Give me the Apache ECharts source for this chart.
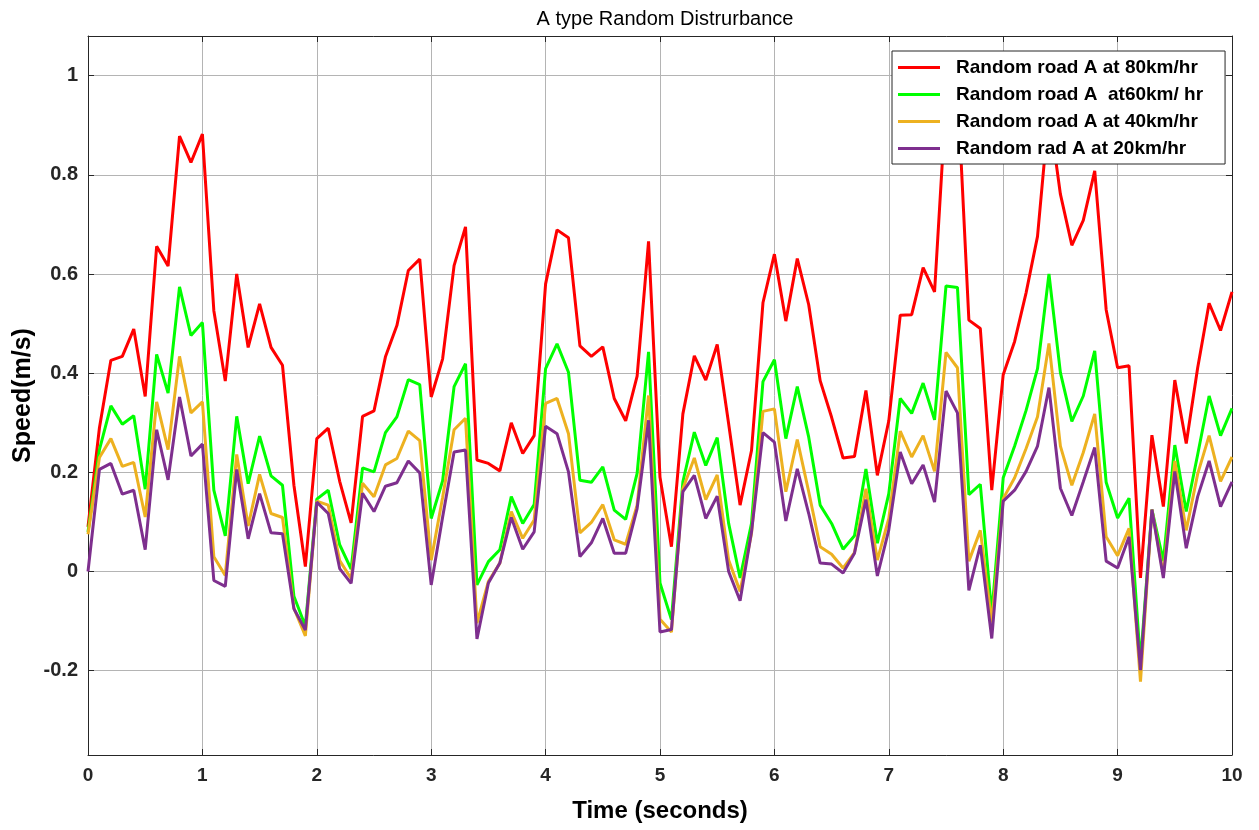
<!DOCTYPE html>
<html lang="en">
<head>
<meta charset="UTF-8">
<title>A type Random Distrurbance</title>
<script src="https://cdn.jsdelivr.net/npm/echarts@6/dist/echarts.min.js"></script>
<style>
  html, body { margin: 0; padding: 0; background: #fff; }
  #box { width: 1259px; height: 830px; }
</style>
</head>
<body>
<div id="box"></div>
<script>
    // sampling step of the time axis (seconds)
    var step = 0.1;

    // series names, as written in the legend
    var names = ['Random road A at 80km/hr', 'Random road A  at60km/ hr', 'Random road A at 40km/hr', 'Random rad A at 20km/hr'];
    var colors = ['#ff0000', '#00ff00', '#edb120', '#7e2f8e'];

    // speed values, one every 0.1 s from 0 to 10 s
    var road80 = [0.09, 0.29, 0.426, 0.434, 0.489, 0.353, 0.656, 0.616, 0.878, 0.825,
        0.882, 0.526, 0.384, 0.60, 0.452, 0.54, 0.452, 0.416, 0.174, 0.01,
        0.268, 0.289, 0.182, 0.098, 0.313, 0.324, 0.433, 0.496, 0.607, 0.63,
        0.352, 0.429, 0.617, 0.695, 0.225, 0.218, 0.203, 0.30, 0.238, 0.274,
        0.58, 0.689, 0.673, 0.455, 0.434, 0.453, 0.349, 0.304, 0.394, 0.666,
        0.19, 0.05, 0.318, 0.435, 0.386, 0.458, 0.298, 0.134, 0.244, 0.542,
        0.64, 0.505, 0.631, 0.538, 0.385, 0.311, 0.229, 0.232, 0.365, 0.194,
        0.304, 0.517, 0.518, 0.613, 0.564, 0.95, 0.98, 0.507, 0.49, 0.164,
        0.397, 0.464, 0.562, 0.676, 0.93, 0.761, 0.658, 0.708, 0.808, 0.528,
        0.411, 0.415, -0.013, 0.275, 0.131, 0.386, 0.258, 0.411, 0.541, 0.486,
        0.564];
    var road60 = [0.08, 0.246, 0.334, 0.297, 0.314, 0.166, 0.438, 0.36, 0.574, 0.476,
        0.502, 0.164, 0.072, 0.313, 0.177, 0.273, 0.193, 0.174, -0.05, -0.11,
        0.146, 0.164, 0.054, 0.005, 0.209, 0.201, 0.28, 0.312, 0.387, 0.377,
        0.107, 0.183, 0.373, 0.419, -0.027, 0.02, 0.044, 0.151, 0.097, 0.135,
        0.409, 0.459, 0.402, 0.184, 0.18, 0.211, 0.124, 0.105, 0.198, 0.443,
        -0.023, -0.097, 0.181, 0.281, 0.214, 0.27, 0.097, -0.013, 0.097, 0.383,
        0.427, 0.268, 0.373, 0.271, 0.134, 0.097, 0.045, 0.072, 0.207, 0.057,
        0.157, 0.349, 0.319, 0.38, 0.306, 0.576, 0.573, 0.155, 0.176, -0.086,
        0.189, 0.253, 0.325, 0.409, 0.6, 0.401, 0.303, 0.354, 0.445, 0.18,
        0.108, 0.148, -0.184, 0.125, 0.021, 0.255, 0.121, 0.236, 0.354, 0.274,
        0.329];
    var road40 = [0.075, 0.23, 0.268, 0.212, 0.22, 0.11, 0.342, 0.246, 0.434, 0.32,
        0.342, 0.03, -0.008, 0.236, 0.092, 0.196, 0.117, 0.109, -0.074, -0.13,
        0.142, 0.134, 0.022, -0.014, 0.178, 0.151, 0.215, 0.228, 0.283, 0.264,
        0.023, 0.15, 0.286, 0.309, -0.104, -0.02, 0.017, 0.121, 0.067, 0.104,
        0.339, 0.349, 0.278, 0.078, 0.099, 0.135, 0.064, 0.055, 0.134, 0.355,
        -0.096, -0.122, 0.167, 0.229, 0.145, 0.195, 0.023, -0.04, 0.077, 0.323,
        0.328, 0.161, 0.266, 0.161, 0.05, 0.035, 0.007, 0.038, 0.167, 0.023,
        0.107, 0.283, 0.231, 0.274, 0.202, 0.442, 0.411, 0.021, 0.083, -0.103,
        0.147, 0.189, 0.248, 0.312, 0.46, 0.253, 0.174, 0.24, 0.318, 0.07,
        0.032, 0.087, -0.222, 0.125, -0.006, 0.223, 0.083, 0.197, 0.274, 0.182,
        0.231];
    var road20 = [0.0, 0.206, 0.218, 0.156, 0.164, 0.044, 0.286, 0.185, 0.352, 0.233,
        0.257, -0.018, -0.03, 0.206, 0.066, 0.157, 0.078, 0.076, -0.075, -0.118,
        0.14, 0.117, 0.006, -0.024, 0.158, 0.121, 0.172, 0.179, 0.223, 0.199,
        -0.027, 0.11, 0.241, 0.245, -0.136, -0.023, 0.017, 0.109, 0.045, 0.08,
        0.293, 0.278, 0.201, 0.03, 0.058, 0.107, 0.037, 0.037, 0.127, 0.305,
        -0.122, -0.117, 0.161, 0.194, 0.107, 0.152, 0.0, -0.059, 0.08, 0.28,
        0.261, 0.102, 0.207, 0.117, 0.017, 0.015, -0.003, 0.037, 0.145, -0.009,
        0.084, 0.241, 0.177, 0.215, 0.14, 0.364, 0.32, -0.038, 0.053, -0.135,
        0.142, 0.164, 0.202, 0.253, 0.371, 0.168, 0.113, 0.181, 0.25, 0.021,
        0.007, 0.07, -0.199, 0.125, -0.013, 0.202, 0.047, 0.151, 0.223, 0.131,
        0.181];

    // y tick labels
    var yTicks = [-0.2, 0, 0.2, 0.4, 0.6, 0.8, 1];

    var allData = [road80, road60, road40, road20];
    var axisColor = '#262626';
    var gridColor = '#b4b4b4';
    var font = 'Liberation Sans, Arial, Helvetica, sans-serif';

    // pair every value with its time
    function pairs(arr) {
        var out = [];
        for (var i = 0; i < arr.length; i++) {
            out.push([Math.round(i * step * 10) / 10, arr[i]]);
        }
        return out;
    }

    var series = [];
    for (var s = 0; s < allData.length; s++) {
        series.push({
            name: names[s],
            type: 'line',
            data: pairs(allData[s]),
            showSymbol: false,
            symbol: 'none',
            lineStyle: { color: colors[s], width: 3 },
            itemStyle: { color: colors[s] },
            animation: false,
            z: 2 + s
        });
    }

    var myChart = echarts.init(document.getElementById('box'));
    var option = {
        backgroundColor: '#fff',
        animation: false,
        title: {
            text: 'A type Random Distrurbance',
            left: 660,
            top: 4,
            textAlign: 'center',
            textStyle: { fontFamily: font, fontSize: 20, fontWeight: 'normal', color: '#000' }
        },
        legend: {
            orient: 'vertical',
            left: 892,
            top: 51,
            padding: [7, 22, 6, 6],
            itemGap: 8,
            itemWidth: 42,
            itemHeight: 3,
            icon: 'rect',
            backgroundColor: '#fff',
            borderColor: axisColor,
            borderWidth: 1,
            z: 10,
            data: names,
            textStyle: { fontFamily: font, fontSize: 19, fontWeight: 'bold', color: '#000', padding: [0, 0, 0, 11] }
        },
        grid: { left: 88, right: 27, top: 36, bottom: 75, show: false },
        xAxis: [{
            type: 'value',
            min: 0,
            max: 10,
            interval: 1,
            name: 'Time (seconds)',
            nameLocation: 'middle',
            nameGap: 44,
            nameTextStyle: { fontFamily: font, fontSize: 24, fontWeight: 'bold', color: '#000' },
            axisLine: { show: true, onZero: false, lineStyle: { color: axisColor, width: 1 } },
            axisTick: { show: true, inside: true, length: 6, lineStyle: { color: axisColor } },
            axisLabel: { fontFamily: font, fontSize: 19, fontWeight: 'bold', color: '#262626', margin: 11 },
            splitLine: { show: true, lineStyle: { color: gridColor, width: 1 } }
        }, {
            type: 'value',
            position: 'top',
            min: 0,
            max: 10,
            interval: 1,
            axisLine: { show: true, onZero: false, lineStyle: { color: axisColor, width: 1 } },
            axisTick: { show: true, inside: true, length: 6, lineStyle: { color: axisColor } },
            axisLabel: { show: false },
            splitLine: { show: false }
        }],
        yAxis: [{
            type: 'value',
            min: -0.37,
            max: 1.08,
            name: 'Speed(m/s)',
            nameLocation: 'middle',
            nameGap: 52,
            nameMoveOverlap: false,
            nameTextStyle: { fontFamily: font, fontSize: 25, fontWeight: 'bold', color: '#000' },
            axisLine: { show: true, onZero: false, lineStyle: { color: axisColor, width: 1 } },
            axisTick: { show: true, inside: true, length: 6, customValues: yTicks, lineStyle: { color: axisColor } },
            axisLabel: { customValues: yTicks, fontFamily: font, fontSize: 20, fontWeight: 'bold', color: '#262626', margin: 10 },
            splitLine: { show: true, lineStyle: { color: gridColor, width: 1 } }
        }, {
            type: 'value',
            position: 'right',
            min: -0.37,
            max: 1.08,
            axisLine: { show: true, onZero: false, lineStyle: { color: axisColor, width: 1 } },
            axisTick: { show: true, inside: true, length: 6, customValues: yTicks, lineStyle: { color: axisColor } },
            axisLabel: { show: false, customValues: yTicks },
            splitLine: { show: false }
        }],
        series: series
    };
    myChart.setOption(option);
</script>
</body>
</html>
